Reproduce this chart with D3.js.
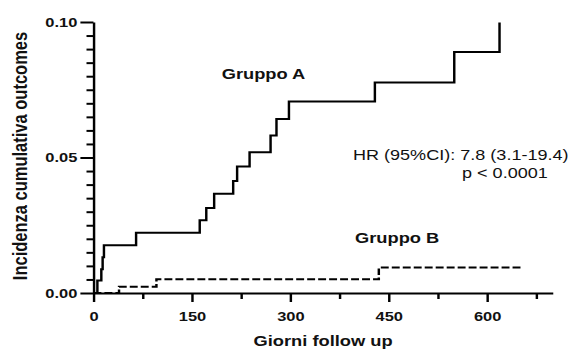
<!DOCTYPE html>
<html>
<head>
<meta charset="utf-8">
<script src="https://cdn.jsdelivr.net/npm/d3@7"></script>
<style>
  html, body { margin: 0; padding: 0; background: #fff; }
  svg text { font-family: "Liberation Sans", Arial, sans-serif; fill: #111; }
</style>
</head>
<body>
<div id="km_chart"></div>
<script>
// data (days, cumulative incidence)
var groupA_days = [0, 6, 12, 14, 16, 65, 162, 172, 184, 213, 219, 238, 270, 279, 298, 429, 550, 619];
var groupA_inc  = [0, 0.0046, 0.0088, 0.0132, 0.0176, 0.0222, 0.0268, 0.0314, 0.0366, 0.0413, 0.0467, 0.0519, 0.0581, 0.0642, 0.0707, 0.0777, 0.0889, 0.0998];

var groupB_days = [0, 39, 96, 435, 653];
var groupB_inc  = [0, 0.0023, 0.0051, 0.0094, 0.0094];

var xTicks = [0, 150, 300, 450, 600];
var xMinor = [75, 225, 375, 525, 675];
var yTicks = [0, 0.05, 0.10];
var yMinor = [0.005, 0.01, 0.015, 0.02, 0.025, 0.03, 0.035, 0.04, 0.045,
              0.055, 0.06, 0.065, 0.07, 0.075, 0.08, 0.085, 0.09, 0.095];

// the picture is stretched sideways, so draw in a narrower box and stretch it
var stretch = 1.22,
    W = 574 / stretch,
    H = 349;

var svg = d3.select("#km_chart")
  .append("svg")
    .attr("width", 574)
    .attr("height", 349)
    .attr("viewBox", "0 0 " + W + " " + H)
    .attr("preserveAspectRatio", "none");

var x = d3.scaleLinear()
    .domain([0, 700])
    .range([76.6, 453]);

var y = d3.scaleLinear()
    .domain([0, 0.10])
    .range([293, 22]);

// x axis
var xAxisG = svg.append("g")
    .attr("transform", "translate(0," + y(0) + ")")
    .call(d3.axisBottom(x).tickValues(xTicks).tickSize(9).tickPadding(9).tickSizeOuter(0));
svg.append("g")
    .attr("transform", "translate(0," + y(0) + ")")
    .call(d3.axisBottom(x).tickValues(xMinor).tickSize(6).tickFormat("").tickSizeOuter(0))
    .select(".domain").remove();

// y axis
var yAxisG = svg.append("g")
    .attr("transform", "translate(" + x(0) + ",0)")
    .call(d3.axisLeft(y).tickValues(yTicks).tickSize(10.7).tickPadding(2.5)
      .tickFormat(d3.format(".2f")).tickSizeOuter(0));
svg.append("g")
    .attr("transform", "translate(" + x(0) + ",0)")
    .call(d3.axisLeft(y).tickValues(yMinor).tickSize(5.7).tickFormat("").tickSizeOuter(0))
    .select(".domain").remove();

svg.selectAll(".domain, .tick line")
    .style("stroke", "#000")
    .style("stroke-width", 2);

svg.selectAll(".tick text")
    .style("font-size", "13.5px")
    .style("font-weight", "bold")
    .style("fill", "#111");

// KM curves
var line = d3.line()
    .x(function(d) { return x(d[0]); })
    .y(function(d) { return y(d[1]); })
    .curve(d3.curveStepAfter);

svg.append("path")
    .datum(d3.zip(groupA_days, groupA_inc))
    .attr("d", line)
    .style("fill", "none")
    .style("stroke", "#000")
    .style("stroke-width", 2);

svg.append("path")
    .datum(d3.zip(groupB_days, groupB_inc))
    .attr("d", line)
    .style("fill", "none")
    .style("stroke", "#000")
    .style("stroke-width", 2)
    .style("stroke-dasharray", "6.5,2.5");

// labels
svg.append("text")
    .attr("x", 181.7)
    .attr("y", 79)
    .style("font-size", "15px")
    .style("font-weight", "bold")
    .text("Gruppo A");

svg.append("text")
    .attr("x", 291)
    .attr("y", 243)
    .style("font-size", "15px")
    .style("font-weight", "bold")
    .text("Gruppo B");

svg.append("text")
    .attr("x", 289.3)
    .attr("y", 160)
    .style("font-size", "14.8px")
    .text("HR (95%CI): 7.8 (3.1-19.4)");

svg.append("text")
    .attr("x", 378.7)
    .attr("y", 178)
    .style("font-size", "14.8px")
    .text("p < 0.0001");

// axis titles
svg.append("text")
    .attr("x", (x.range()[0] + x.range()[1]) / 2)
    .attr("y", 346)
    .attr("text-anchor", "middle")
    .style("font-size", "15px")
    .style("font-weight", "bold")
    .text("Giorni follow up");

svg.append("text")
    .attr("transform", "translate(22," + 156 + ") rotate(-90)")
    .attr("text-anchor", "middle")
    .style("font-size", "16.5px")
    .style("font-weight", "bold")
    .text("Incidenza cumulativa outcomes");
</script>
</body>
</html>
